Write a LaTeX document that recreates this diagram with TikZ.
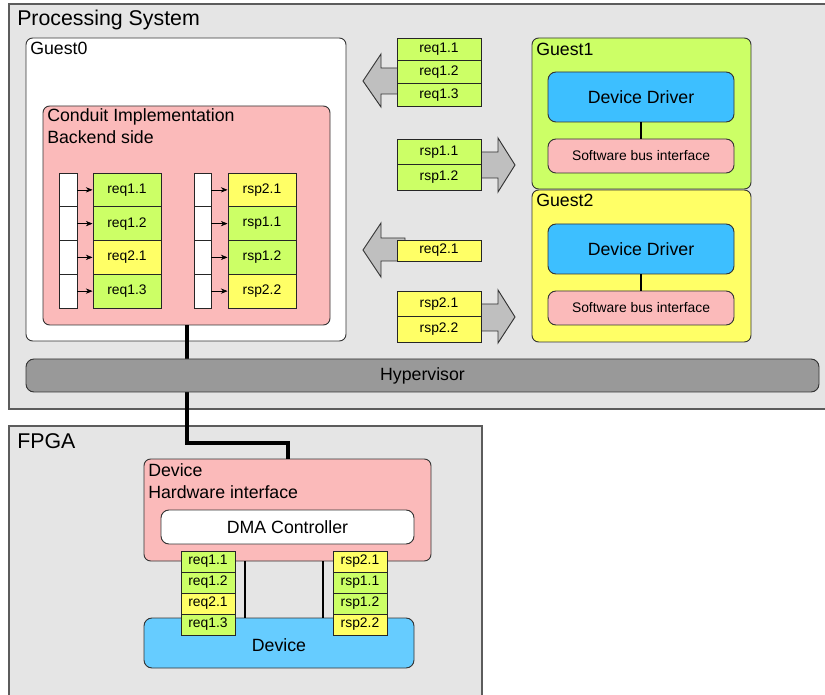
\documentclass[tikz,border=0pt]{standalone}
\usepackage{fontspec}
\setmainfont{Liberation Sans}
\usepackage{xcolor}
\usepackage{tikz}
\usetikzlibrary{positioning,calc,fit,arrows.meta}

\definecolor{psgray}{HTML}{E5E5E5}
\definecolor{reqgreen}{HTML}{CCFF66}
\definecolor{reqyellow}{HTML}{FFFF66}
\definecolor{ifpink}{HTML}{FBBABA}
\definecolor{drvblue}{HTML}{3DBFFF}
\definecolor{devblue}{HTML}{66CCFF}
\definecolor{hvgray}{HTML}{999999}
\definecolor{arrowgray}{HTML}{BFBFBF}
\definecolor{edgegray}{HTML}{333333}

\newcommand{\bigfont}{\fontsize{16}{19}\selectfont}
\newcommand{\midfont}{\fontsize{13.3}{16}\selectfont}
\newcommand{\smallfont}{\fontsize{10.4}{12}\selectfont}

\begin{document}
\begin{tikzpicture}[x=0.75pt, y=-0.75pt,
    area/.style={fill=psgray, draw=edgegray!80, line width=0.8pt, inner sep=0pt},
    guest/.style={draw=edgegray, line width=0.7pt, rounded corners=5pt, inner sep=0pt},
    rbox/.style={draw=edgegray, line width=0.7pt, rounded corners=6pt, inner sep=0pt},
    cell/.style={draw=black!85, line width=0.7pt, inner sep=0pt},
    mid/.style={label={[font=\midfont, inner sep=0pt]center:#1}},
    small/.style={label={[font=\smallfont, inner sep=0pt]center:#1}},
    caption/.style={inner sep=0pt, anchor=base west},
    bigarrow/.style={fill=arrowgray, draw=edgegray, line width=0.7pt},
    bus/.style={line width=3pt}]
    \useasboundingbox (0,0) rectangle (825,695);
    \clip (0,0) rectangle (825,695);

    % Processing system and FPGA areas
    \node[area, fit={(9,4) (835,409)}] (ps) {};
    \node[caption, font=\bigfont] (pslabel) at (17,26) {Processing System};
    \node[area, fit={(9,426) (482,705)}] (fpga) {};
    \node[caption, font=\bigfont] (fpgalabel) at (17,448) {FPGA};

    % Guest0 with backend
    \node[guest, fill=white, fit={(26,38) (346,341)}] (guest0) {};
    \node[caption, font=\midfont] (guest0label) at (30,55) {Guest0};
    \node[guest, fill=ifpink, fit={(43,106) (330,325)}] (conduit) {};
    \node[caption, font=\midfont] (conduitlabel) at (47,122) {Conduit Implementation};
    \node[caption, font=\midfont] (backendlabel) at (47,144) {Backend side};

    % Backend queues
    \foreach \txt/\col [count=\i] in {req1.1/reqgreen, req1.2/reqgreen, req2.1/reqyellow, req1.3/reqgreen} {
        \node[cell, fill=white, fit={(59,{173+(\i-1)*33.75}) (77,{173+\i*33.75})}] (rqslot\i) {};
        \node[cell, fill=\col, small=\txt, fit={(93,{173+(\i-1)*33.75}) (161,{173+\i*33.75})}] (rq\i) {};
        \draw[-{Stealth[length=5pt,width=4pt]}] (rqslot\i) -- (rq\i);
    }
    \foreach \txt/\col [count=\i] in {rsp2.1/reqyellow, rsp1.1/reqgreen, rsp1.2/reqgreen, rsp2.2/reqyellow} {
        \node[cell, fill=white, fit={(194,{173+(\i-1)*33.75}) (211,{173+\i*33.75})}] (rsslot\i) {};
        \node[cell, fill=\col, small=\txt, fit={(228,{173+(\i-1)*33.75}) (296,{173+\i*33.75})}] (rs\i) {};
        \draw[-{Stealth[length=5pt,width=4pt]}] (rsslot\i) -- (rs\i);
    }

    % Transfer arrows
    \draw[bigarrow] (405,68) -- (381,68) -- (381,54) -- (363,81) -- (381,107) -- (381,94) -- (405,94) -- cycle;
    \draw[bigarrow] (475,152) -- (498,152) -- (498,138) -- (515,165) -- (498,192) -- (498,178) -- (475,178) -- cycle;
    \draw[bigarrow] (405,238) -- (381,238) -- (381,223) -- (363,250) -- (381,277) -- (381,261) -- (405,261) -- cycle;
    \draw[bigarrow] (475,304) -- (498,304) -- (498,290) -- (515,317) -- (498,343) -- (498,331) -- (475,331) -- cycle;

    % Messages in transit
    \foreach \txt [count=\i] in {req1.1, req1.2, req1.3}
        \node[cell, fill=reqgreen, small=\txt, fit={(397,{38+(\i-1)*22.67}) (481,{38+\i*22.67})}] (tq\i) {};
    \foreach \txt [count=\i] in {rsp1.1, rsp1.2}
        \node[cell, fill=reqgreen, small=\txt, fit={(397,{139+(\i-1)*25.5}) (481,{139+\i*25.5})}] (ts\i) {};
    \node[cell, fill=reqyellow, small=req2.1, fit={(397,240) (481,261)}] (tq4) {};
    \foreach \txt [count=\i] in {rsp2.1, rsp2.2}
        \node[cell, fill=reqyellow, small=\txt, fit={(397,{291+(\i-1)*25.5}) (481,{291+\i*25.5})}] (tu\i) {};

    % Guest1 and Guest2
    \node[guest, fill=reqgreen, fit={(532,38) (751,189)}] (guest1) {};
    \node[caption, font=\midfont] (guest1label) at (536,55.5) {Guest1};
    \node[rbox, fill=drvblue, mid=Device Driver, fit={(548,72) (734,122)}] (drv1) {};
    \node[rbox, fill=ifpink, small=Software bus interface, fit={(548,139) (734,173)}] (sbi1) {};
    \draw[line width=1.1pt] (drv1) -- (sbi1);

    \node[guest, fill=reqyellow, fit={(532,190) (751,342)}] (guest2) {};
    \node[caption, font=\midfont] (guest2label) at (536,207) {Guest2};
    \node[rbox, fill=drvblue, mid=Device Driver, fit={(548,224) (734,274)}] (drv2) {};
    \node[rbox, fill=ifpink, small=Software bus interface, fit={(548,291) (734,325)}] (sbi2) {};
    \draw[line width=1.1pt] (drv2) -- (sbi2);

    % Hardware side
    \node[guest, fill=ifpink, fit={(144,459) (431,561)}] (hwif) {};
    \node[caption, font=\midfont] (hwiflabel) at (148,476) {Device};
    \node[caption, font=\midfont] (hwifsub) at (148,498) {Hardware interface};
    \node[rbox, fill=white, mid=DMA Controller, fit={(161,510) (414,544)}] (dma) {};
    \node[rbox, fill=devblue, fit={(144,618) (414,668)}] (dev) {};
    \node[font=\midfont, inner sep=0pt] (devlabel) at (279,645) {Device};
    \draw[line width=1.1pt] ($(hwif.south)+(-42.5,0)$) -- ($(dev.north)+(-34,0)$);
    \draw[line width=1.1pt] ($(hwif.south)+(35.5,0)$) -- ($(dev.north)+(44,0)$);

    \foreach \txt/\col [count=\i] in {req1.1/reqgreen, req1.2/reqgreen, req2.1/reqyellow, req1.3/reqgreen}
        \node[cell, fill=\col, small=\txt, fit={(181,{551+(\i-1)*21}) (235,{551+\i*21})}] (fq\i) {};
    \foreach \txt/\col [count=\i] in {rsp2.1/reqyellow, rsp1.1/reqgreen, rsp1.2/reqgreen, rsp2.2/reqyellow}
        \node[cell, fill=\col, small=\txt, fit={(333,{551+(\i-1)*21}) (387,{551+\i*21})}] (fs\i) {};

    % Link from backend to hardware, under the hypervisor
    \draw[bus] (conduit.south) -- ++(0,118) -| (hwif.north);
    \node[rbox, fill=hvgray, mid=Hypervisor, fit={(26,359) (819,392)}] (hyp) {};
\end{tikzpicture}
\end{document}
